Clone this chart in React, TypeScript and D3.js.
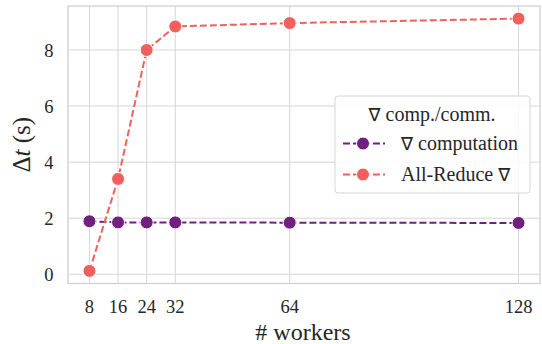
import React, { useEffect, useRef } from 'react'
import * as d3 from 'd3'

const workers = [8, 16, 24, 32, 64, 128]
const computation = [1.89, 1.85, 1.85, 1.85, 1.84, 1.83]
const allReduce = [0.12, 3.4, 8.0, 8.84, 8.96, 9.12]
const yTicks = [0, 2, 4, 6, 8]
const seriesNames = [['∇', ' computation'], ['All-Reduce ', '∇']]
const seriesColors = ['#711f81', '#f1605d']

const W = 542
const H = 344
const margin = { left: 68, right: 2, top: 6, bottom: 60.5 }
const serif = 'Liberation Serif'
const sym = 'DejaVu Sans'

export default function App() {
  const ref = useRef<SVGSVGElement>(null)

  useEffect(() => {
    const svg = d3.select(ref.current)
    svg.selectAll('*').remove()

    const x = d3.scaleLinear().domain([2, 134]).range([margin.left, W - margin.right])
    const y = d3.scaleLinear().domain([-0.33, 9.57]).range([H - margin.bottom, margin.top])

    const g = svg.append('g')

    // grid
    g.selectAll('.vgrid')
      .data(workers)
      .enter()
      .append('line')
      .attr('x1', d => x(d))
      .attr('x2', d => x(d))
      .attr('y1', margin.top)
      .attr('y2', H - margin.bottom)
      .attr('stroke', '#d6d6d6')
      .attr('stroke-width', 1)

    g.selectAll('.hgrid')
      .data(yTicks)
      .enter()
      .append('line')
      .attr('x1', margin.left)
      .attr('x2', W - margin.right)
      .attr('y1', d => y(d))
      .attr('y2', d => y(d))
      .attr('stroke', '#d6d6d6')
      .attr('stroke-width', 1)

    // frame
    g.append('rect')
      .attr('x', margin.left)
      .attr('y', margin.top)
      .attr('width', W - margin.left - margin.right)
      .attr('height', H - margin.top - margin.bottom)
      .attr('fill', 'none')
      .attr('stroke', '#d0d0d0')
      .attr('stroke-width', 1.25)

    // tick labels
    g.selectAll('.xt')
      .data(workers)
      .enter()
      .append('text')
      .attr('x', d => x(d))
      .attr('y', 312.5)
      .attr('text-anchor', 'middle')
      .style('font-family', serif)
      .style('font-size', '18.5px')
      .attr('fill', '#262626')
      .text(d => d)

    g.selectAll('.yt')
      .data(yTicks)
      .enter()
      .append('text')
      .attr('x', 53.5)
      .attr('y', d => y(d) + 6.5)
      .attr('text-anchor', 'end')
      .style('font-family', serif)
      .style('font-size', '18.5px')
      .attr('fill', '#262626')
      .text(d => d)

    // axis labels
    g.append('text')
      .attr('x', (margin.left + W - margin.right) / 2 - 1)
      .attr('y', 340)
      .attr('text-anchor', 'middle')
      .style('font-family', serif)
      .style('font-size', '24px')
      .attr('fill', '#262626')
      .text('# workers')

    const yl = g.append('text')
      .attr('transform', `translate(30,${(margin.top + H - margin.bottom) / 2}) rotate(-90)`)
      .attr('text-anchor', 'middle')
      .style('font-family', serif)
      .style('font-size', '25px')
      .attr('fill', '#262626')
    yl.append('tspan').text('Δ')
    yl.append('tspan').style('font-style', 'italic').text('t')
    yl.append('tspan').text(' (s)')

    // series
    const series = [computation, allReduce]
    series.forEach((vals, i) => {
      const pts = workers.map((w, j) => [w, vals[j]] as [number, number])
      const line = d3.line<[number, number]>().x(d => x(d[0])).y(d => y(d[1]))
      g.append('path')
        .attr('d', line(pts))
        .attr('fill', 'none')
        .attr('stroke', seriesColors[i])
        .attr('stroke-width', 2)
        .attr('stroke-dasharray', '7,3')
      g.selectAll('.dot' + i)
        .data(pts)
        .enter()
        .append('circle')
        .attr('cx', d => x(d[0]))
        .attr('cy', d => y(d[1]))
        .attr('r', 6.5)
        .attr('fill', seriesColors[i])
        .attr('stroke', '#fff')
        .attr('stroke-width', 1)
    })

    // legend
    const lg = g.append('g')
    lg.append('rect')
      .attr('x', 335)
      .attr('y', 96)
      .attr('width', 195)
      .attr('height', 97)
      .attr('rx', 3)
      .attr('fill', 'rgba(255,255,255,0.85)')
      .attr('stroke', '#d6d6d6')
      .attr('stroke-width', 1)
    const lt = lg.append('text')
      .attr('x', 432)
      .attr('y', 120.5)
      .attr('text-anchor', 'middle')
      .style('font-family', serif)
      .style('font-size', '20px')
      .attr('fill', '#262626')
    lt.append('tspan').style('font-family', sym).style('font-size', '18px').text('∇')
    lt.append('tspan').text(' comp./comm.')
    seriesNames.forEach((parts, i) => {
      const cy = 143.5 + i * 31
      lg.append('line')
        .attr('x1', 343)
        .attr('x2', 385)
        .attr('y1', cy)
        .attr('y2', cy)
        .attr('stroke', seriesColors[i])
        .attr('stroke-width', 2)
        .attr('stroke-dasharray', '7,3')
      lg.append('circle')
        .attr('cx', 363)
        .attr('cy', cy)
        .attr('r', 6.5)
        .attr('fill', seriesColors[i])
        .attr('stroke', '#fff')
        .attr('stroke-width', 1)
      const t = lg.append('text')
        .attr('x', 401)
        .attr('y', cy + 6)
        .style('font-family', serif)
        .style('font-size', '20px')
        .attr('fill', '#262626')
      parts.forEach(p => {
        const ts = t.append('tspan').text(p)
        if (p === '∇') ts.style('font-family', sym).style('font-size', '18px')
      })
    })
  }, [])

  return (
    <div>
      <svg ref={ref} width={W} height={H} style={{ position: 'absolute', left: 0, top: 0, background: '#fff' }} />
    </div>
  )
}
